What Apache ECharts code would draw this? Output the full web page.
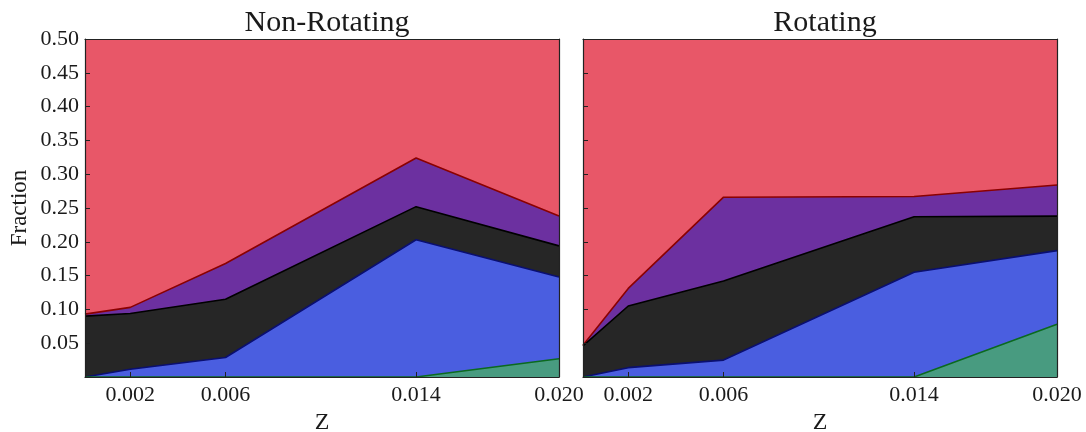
<!DOCTYPE html>
<html>
<head>
<meta charset="utf-8">
<script src="https://cdn.jsdelivr.net/npm/echarts@6/dist/echarts.min.js"></script>
<style>
html,body{margin:0;padding:0;background:#fff;}
#chart{width:1086px;height:432px;}
</style>
</head>
<body>
<div id="chart"></div>
<script>
// Metallicity values (x)
const Z = [0.0001, 0.002, 0.006, 0.014, 0.020];
const xTickValues = [0.002, 0.006, 0.014, 0.020];
const yTickLabels = ['0.05','0.10','0.15','0.20','0.25','0.30','0.35','0.40','0.45','0.50'];
const panelTitles = ['Non-Rotating', 'Rotating'];

// Non-rotating layer fractions (stacked bottom -> top)
const nrGreen  = [0, 0, 0, 0, 0.027];
const nrBlue   = [0, 0.0114, 0.0288, 0.203, 0.121];
const nrBlack  = [0.090, 0.0826, 0.0862, 0.049, 0.046];
const nrPurple = [0.003, 0.009, 0.053, 0.072, 0.044];
const nrRed    = [0.907, 0.897, 0.832, 0.676, 0.762];

// Rotating layer fractions (stacked bottom -> top)
const rGreen  = [0, 0, 0, 0, 0.078];
const rBlue   = [0, 0.0138, 0.025, 0.155, 0.109];
const rBlack  = [0.046, 0.0912, 0.117, 0.082, 0.051];
const rPurple = [0.001, 0.026, 0.124, 0.030, 0.046];
const rRed    = [0.953, 0.869, 0.734, 0.733, 0.716];

const FONT = 'Liberation Serif';
const TXT = '#1a1a1a';
const layers = [
  {fill:'#489B80', line:'#0b6a1e'},
  {fill:'#4A5EE0', line:'#0a0f70'},
  {fill:'#262626', line:'#000000'},
  {fill:'#6C30A0', line:'#8b0000'},
  {fill:'#E85768', line:'#E85768'}
];

// build stacked (cumulative) series for one panel
function panelSeries(layerVals, gi) {
  const out = [];
  const cum = Z.map(()=>0);
  layerVals.forEach((vals, idx) => {
    const top = cum.map((c,i)=> c + vals[i]);
    for (let i=0;i<cum.length;i++) cum[i] = top[i];
    const st = layers[idx];
    out.push({
      type:'line', xAxisIndex:gi, yAxisIndex:gi,
      data: Z.map((z,i)=>[z, top[i]]),
      symbol:'none', smooth:false, animation:false, clip:true,
      z: 10 - idx,
      lineStyle:{color:st.line, width: idx===4 ? 0 : 1.6},
      areaStyle:{color:st.fill, opacity:1, origin:'start'},
      itemStyle:{color:st.fill}
    });
  });
  return out;
}

const grids = [
  {left:85, top:39, width:474, height:338, outerBoundsMode:'none', containLabel:false},
  {left:583, top:39, width:474, height:338, outerBoundsMode:'none', containLabel:false}
];

function xAx(gi) {
  return {
    type:'value', gridIndex:gi, min:Z[0], max:Z[Z.length-1], z:20,
    name:'Z', nameLocation:'middle', nameGap:31,
    nameTextStyle:{fontFamily:FONT, fontSize:24, color:TXT},
    axisLine:{show:true, onZero:false, lineStyle:{color:'#222', width:1.2}},
    axisTick:{show:true, inside:true, length:5, customValues:xTickValues, lineStyle:{color:'#222'}},
    axisLabel:{show:true, customValues:xTickValues, margin:7, fontFamily:FONT, fontSize:22, color:TXT,
      formatter:v=>v.toFixed(3)},
    splitLine:{show:false}
  };
}
function xTop(gi) {
  return {type:'value', gridIndex:gi, position:'top', min:Z[0], max:Z[Z.length-1], z:20,
    axisLine:{show:true, onZero:false, lineStyle:{color:'#222', width:1.2}},
    axisTick:{show:false}, axisLabel:{show:false}, splitLine:{show:false}};
}
function yAx(gi) {
  return {
    type:'value', gridIndex:gi, min:0, max:0.5, interval:0.05, z:20,
    name: gi===0 ? 'Fraction' : '', nameLocation:'middle', nameGap:54,
    nameTextStyle:{fontFamily:FONT, fontSize:23, color:TXT},
    axisLine:{show:true, onZero:false, lineStyle:{color:'#222', width:1.2}},
    axisTick:{show:true, inside:true, length:5, lineStyle:{color:'#222'}},
    axisLabel:{show: gi===0, margin:6, fontFamily:FONT, fontSize:22, color:TXT,
      formatter:v=>{const s=v.toFixed(2); return yTickLabels.indexOf(s)>=0 ? s : '';}},
    splitLine:{show:false}
  };
}
function yRight(gi) {
  return {type:'value', gridIndex:gi, position:'right', min:0, max:0.5, z:20,
    axisLine:{show:true, onZero:false, lineStyle:{color:'#222', width:1.2}},
    axisTick:{show:false}, axisLabel:{show:false}, splitLine:{show:false}};
}

const chart = echarts.init(document.getElementById('chart'), null, {renderer:'canvas'});
chart.setOption({
  backgroundColor:'#ffffff',
  animation:false,
  title: [
    {text:panelTitles[0], left:322, top:3, textAlign:'center', textStyle:{fontFamily:FONT, fontSize:30, fontWeight:'normal', color:TXT}},
    {text:panelTitles[1], left:820, top:3, textAlign:'center', textStyle:{fontFamily:FONT, fontSize:30, fontWeight:'normal', color:TXT}}
  ],
  grid: grids,
  xAxis:[xAx(0), xAx(1), xTop(0), xTop(1)],
  yAxis:[yAx(0), yAx(1), yRight(0), yRight(1)],
  series: panelSeries([nrGreen, nrBlue, nrBlack, nrPurple, nrRed], 0)
    .concat(panelSeries([rGreen, rBlue, rBlack, rPurple, rRed], 1))
});
</script>
</body>
</html>
